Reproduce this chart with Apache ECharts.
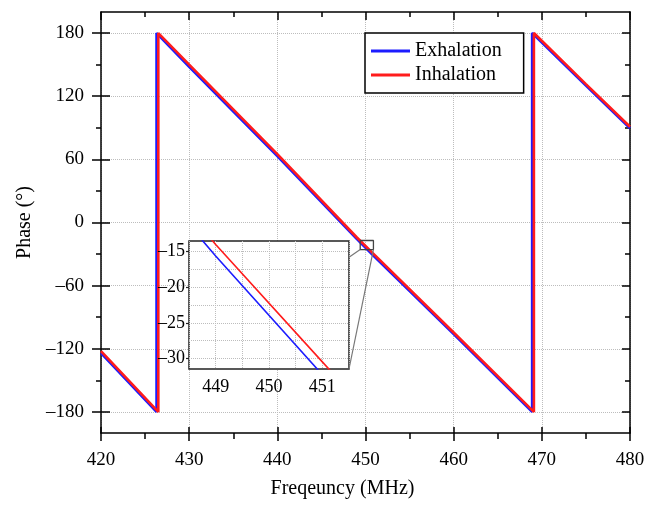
<!DOCTYPE html>
<html>
<head>
<meta charset="utf-8">
<script src="https://cdn.jsdelivr.net/npm/echarts@6/dist/echarts.min.js"></script>
<style>
  html, body { margin: 0; padding: 0; background: #fff; }
  #chart { width: 661px; height: 506px; }
</style>
</head>
<body>
<div id="chart"></div>
<script>
// Phase response during exhalation and inhalation
const exhalationFreq  = [420, 426.3, 426.3, 430, 440, 449, 451, 460, 468.9, 468.9, 475, 480];
const exhalationPhase = [-124, -180, 180, 148, 63, -15.6, -32.3, -106, -180, 180, 130, 89.5];
const inhalationFreq  = [420, 426.5, 426.5, 430, 440, 449, 451, 460, 469.1, 469.1, 475, 480];
const inhalationPhase = [-122.3, -180, 180, 150, 65, -14, -30.5, -104.5, -180, 180, 131.5, 91];

// Tick values
const phaseMajorTicks = [-180, -120, -60, 0, 60, 120, 180];
const phaseMinorTicks = [-150, -90, -30, 30, 90, 150];
const insetPhaseGrid   = [-30, -27.5, -25, -22.5, -20, -17.5, -15];
const insetPhaseLabels = [-30, -25, -20, -15];

// Zoomed window: frequency and phase range of the inset
const insetFreqRange  = [448.5, 451.5];
const insetPhaseRange = [-31.5, -13.5];
// Marker rectangle on the main plot
const zoomBoxFreq  = [449.4, 450.9];
const zoomBoxPhase = [-25.7, -17.1];
const connectorStartPhase = -15.8;

const BLUE = '#1c1cff';
const RED = '#ff1c1c';
const FONT = "'Liberation Serif', 'Times New Roman', serif";

const pairs = (xs, ys) => xs.map((x, i) => [x, ys[i]]);
const dash = v => String(v).replace('-', '\u2013');

const dotted = { show: true, lineStyle: { color: '#bdbdbd', type: 'dotted', width: 1 } };
const black = { color: '#000', width: 1.5 };

const chart = echarts.init(document.getElementById('chart'), null, { renderer: 'canvas' });

const boxFreq = [zoomBoxFreq[0], zoomBoxFreq[1], zoomBoxFreq[1], zoomBoxFreq[0], zoomBoxFreq[0]];
const boxPhase = [zoomBoxPhase[1], zoomBoxPhase[1], zoomBoxPhase[0], zoomBoxPhase[0], zoomBoxPhase[1]];

chart.setOption({
  animation: false,
  backgroundColor: '#fff',
  textStyle: { fontFamily: FONT },
  grid: [
    { left: 101, top: 12, width: 529, height: 421 },
    { left: 189, top: 241, width: 160, height: 128, show: true, backgroundColor: '#fff',
      borderColor: '#222', borderWidth: 1.5, z: 3 }
  ],
  legend: {
    data: ['Exhalation', 'Inhalation'],
    orient: 'vertical',
    left: 365, top: 33,
    icon: 'rect',
    itemWidth: 39, itemHeight: 3, itemGap: 0,
    padding: [6, 22, 6, 6],
    backgroundColor: '#fff',
    borderColor: '#000', borderWidth: 1.5, borderRadius: 0,
    textStyle: { fontFamily: FONT, fontSize: 20, color: '#000', lineHeight: 24 },
    z: 6
  },
  xAxis: [
    { // bottom axis with labels
      type: 'value', gridIndex: 0, min: 420, max: 480, interval: 10, position: 'bottom',
      axisLine: { show: true, onZero: false, lineStyle: black },
      axisTick: { show: true, inside: false, length: 8, lineStyle: black },
      minorTick: { show: true, splitNumber: 2, length: 6, lineStyle: black },
      axisLabel: { fontFamily: FONT, fontSize: 19, color: '#000', margin: 18,
                   showMinLabel: true, showMaxLabel: true },
      splitLine: dotted,
      name: 'Freqeuncy (MHz)', nameLocation: 'middle', nameGap: 46,
      nameTextStyle: { fontFamily: FONT, fontSize: 20, color: '#000', padding: [0, 46, 0, 0] }
    },
    { // inner half of bottom major ticks
      type: 'value', gridIndex: 0, min: 420, max: 480, interval: 10, position: 'bottom',
      axisLine: { show: false, onZero: false },
      axisTick: { show: true, inside: true, length: 6, lineStyle: black },
      axisLabel: { show: false }, splitLine: { show: false }
    },
    { // top frame
      type: 'value', gridIndex: 0, min: 420, max: 480, interval: 10, position: 'top',
      axisLine: { show: true, onZero: false, lineStyle: black },
      axisTick: { show: true, inside: true, length: 8, lineStyle: black },
      minorTick: { show: true, splitNumber: 2, length: 5, lineStyle: black },
      axisLabel: { show: false }, splitLine: { show: false }
    },
    { // inset frequency axis
      type: 'value', gridIndex: 1, min: insetFreqRange[0], max: insetFreqRange[1], interval: 0.5,
      position: 'bottom', z: 4,
      axisLine: { show: false, onZero: false },
      axisTick: { show: false },
      axisLabel: { fontFamily: FONT, fontSize: 18, color: '#000', margin: 9,
                   formatter: v => (Math.abs(v - Math.round(v)) < 1e-6 ? String(Math.round(v)) : '') },
      splitLine: dotted
    }
  ],
  yAxis: [
    { // left axis with labels
      type: 'value', gridIndex: 0, min: -200, max: 200, position: 'left',
      axisLine: { show: true, onZero: false, lineStyle: black },
      axisTick: { show: true, inside: false, length: 9, lineStyle: black, customValues: phaseMajorTicks },
      axisLabel: { fontFamily: FONT, fontSize: 19, color: '#000', margin: 17,
                   customValues: phaseMajorTicks, formatter: dash },
      splitLine: dotted,
      name: 'Phase (°)', nameLocation: 'middle', nameGap: 66,
      nameTextStyle: { fontFamily: FONT, fontSize: 20, color: '#000' }
    },
    { // inner half of left major ticks
      type: 'value', gridIndex: 0, min: -200, max: 200, position: 'left',
      axisLine: { show: false, onZero: false },
      axisTick: { show: true, inside: true, length: 9, lineStyle: black, customValues: phaseMajorTicks },
      axisLabel: { show: false }, splitLine: { show: false }
    },
    { // left minor ticks
      type: 'value', gridIndex: 0, min: -200, max: 200, position: 'left',
      axisLine: { show: false, onZero: false },
      axisTick: { show: true, inside: false, length: 5, lineStyle: black, customValues: phaseMinorTicks },
      axisLabel: { show: false }, splitLine: { show: false }
    },
    { // right frame, major ticks
      type: 'value', gridIndex: 0, min: -200, max: 200, position: 'right',
      axisLine: { show: true, onZero: false, lineStyle: black },
      axisTick: { show: true, inside: true, length: 8, lineStyle: black, customValues: phaseMajorTicks },
      axisLabel: { show: false }, splitLine: { show: false }
    },
    { // right minor ticks
      type: 'value', gridIndex: 0, min: -200, max: 200, position: 'right',
      axisLine: { show: false, onZero: false },
      axisTick: { show: true, inside: true, length: 5, lineStyle: black, customValues: phaseMinorTicks },
      axisLabel: { show: false }, splitLine: { show: false }
    },
    { // inset phase grid
      type: 'value', gridIndex: 1, min: insetPhaseRange[0], max: insetPhaseRange[1], position: 'left', z: 4,
      axisLine: { show: false, onZero: false },
      axisTick: { show: false, customValues: insetPhaseGrid },
      axisLabel: { show: false },
      splitLine: dotted
    },
    { // inset phase labels
      type: 'value', gridIndex: 1, min: insetPhaseRange[0], max: insetPhaseRange[1], position: 'left', z: 4,
      axisLine: { show: false, onZero: false },
      axisTick: { show: true, inside: false, length: 3, lineStyle: { color: '#222', width: 1.2 },
                  customValues: insetPhaseLabels },
      axisLabel: { fontFamily: FONT, fontSize: 18, color: '#000', margin: 4,
                   customValues: insetPhaseLabels, formatter: dash },
      splitLine: { show: false }
    }
  ],
  series: [
    { name: 'Exhalation', type: 'line', xAxisIndex: 0, yAxisIndex: 0,
      data: pairs(exhalationFreq, exhalationPhase), symbol: 'none', z: 2,
      color: BLUE, lineStyle: { color: BLUE, width: 2.6 } },
    { name: 'Inhalation', type: 'line', xAxisIndex: 0, yAxisIndex: 0,
      data: pairs(inhalationFreq, inhalationPhase), symbol: 'none', z: 2,
      color: RED, lineStyle: { color: RED, width: 2.6 } },
    { name: 'Exhalation', type: 'line', xAxisIndex: 3, yAxisIndex: 5,
      data: pairs(exhalationFreq, exhalationPhase), symbol: 'none', z: 5, clip: true,
      color: BLUE, lineStyle: { color: BLUE, width: 1.6 } },
    { name: 'Inhalation', type: 'line', xAxisIndex: 3, yAxisIndex: 5,
      data: pairs(inhalationFreq, inhalationPhase), symbol: 'none', z: 5, clip: true,
      color: RED, lineStyle: { color: RED, width: 1.6 } },
    { name: 'zoom window', type: 'line', xAxisIndex: 0, yAxisIndex: 0,
      data: pairs(boxFreq, boxPhase), symbol: 'none', z: 6, silent: true,
      lineStyle: { color: '#444', width: 1.3 } }
  ]
});

// Connector lines from the inset to the marker rectangle
const insetPt = (x, y) => chart.convertToPixel({ seriesIndex: 2 }, [x, y]);
const mainPt = (x, y) => chart.convertToPixel({ seriesIndex: 0 }, [x, y]);
const c1a = insetPt(insetFreqRange[1], connectorStartPhase);
const c1b = mainPt(zoomBoxFreq[0], zoomBoxPhase[0]);
const c2a = insetPt(insetFreqRange[1], insetPhaseRange[0]);
const c2b = mainPt(zoomBoxFreq[1], zoomBoxPhase[0]);
chart.setOption({
  graphic: [
    { type: 'line', z: 10, silent: true,
      shape: { x1: c1a[0], y1: c1a[1], x2: c1b[0], y2: c1b[1] },
      style: { stroke: '#777', lineWidth: 1.2 } },
    { type: 'line', z: 10, silent: true,
      shape: { x1: c2a[0], y1: c2a[1], x2: c2b[0], y2: c2b[1] },
      style: { stroke: '#777', lineWidth: 1.2 } }
  ]
});
</script>
</body>
</html>
